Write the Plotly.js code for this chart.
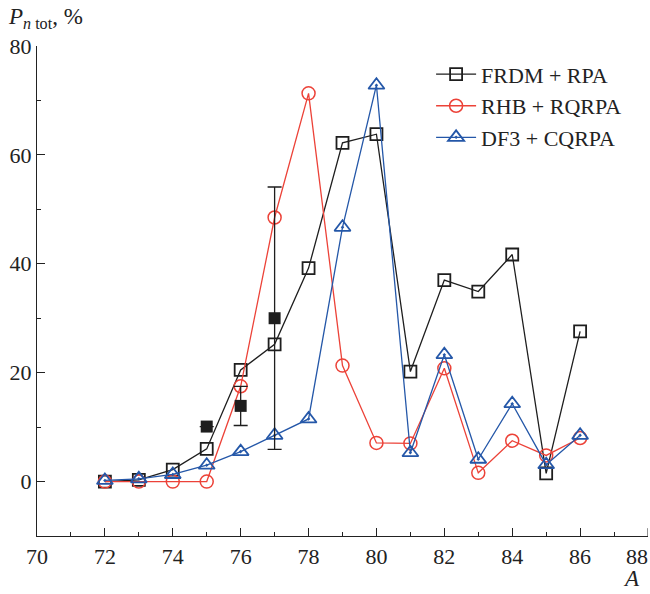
<!DOCTYPE html>
<html>
<head>
<meta charset="utf-8">
<script src="https://cdn.plot.ly/plotly-3.0.1.min.js"></script>
<style>html,body{margin:0;padding:0;background:#fff;}#chart{width:650px;height:594px;}</style>
</head>
<body>
<div id="chart"></div>
<script>
// Mass numbers
const massNumbers = [72, 73, 74, 75, 76, 77, 78, 79, 80, 81, 82, 83, 84, 85, 86];
// FRDM + RPA
const frdmRpa = [0.0, 0.3, 2.2, 6.0, 20.5, 25.2, 39.2, 62.2, 63.8, 20.2, 37.0, 34.9, 41.7, 1.5, 27.6];
// RHB + RQRPA
const rhbRqrpa = [0.0, 0.0, 0.0, 0.0, 17.5, 48.5, 71.3, 21.3, 7.1, 7.0, 20.8, 1.6, 7.5, 4.8, 8.0];
// DF3 + CQRPA
const df3Cqrpa = [0.2, 0.5, 1.3, 3.0, 5.5, 8.5, 11.5, 46.7, 72.8, 5.3, 23.3, 4.1, 14.3, 3.1, 8.5];
// Experimental values with errors
const expA = [75, 76, 77];
const expValues = [10.1, 13.9, 30.0];
const expErrors = [0, 3.6, 24.1];

const seriesNames = ['FRDM + RPA', 'RHB + RQRPA', 'DF3 + CQRPA'];
const xTickVals = [70, 72, 74, 76, 78, 80, 82, 84, 86, 88];
const yTickVals = [0, 20, 40, 60, 80];

const FONT = 'Liberation Serif';
const BLACK = '#1e1e1e', RED = '#ec4238', BLUE = '#2457a8';

const traces = [
  {x: massNumbers, y: frdmRpa, name: seriesNames[0], mode: 'lines+markers',
   line: {color: BLACK, width: 1.3},
   marker: {symbol: 'square-open', size: 12, color: BLACK, line: {width: 1.8}}},
  {x: massNumbers, y: rhbRqrpa, name: seriesNames[1], mode: 'lines+markers',
   line: {color: RED, width: 1.3},
   marker: {symbol: 'circle-open', size: 13, color: RED, line: {width: 1.5}}},
  {x: massNumbers, y: df3Cqrpa, name: seriesNames[2], mode: 'lines+markers',
   line: {color: BLUE, width: 1.3},
   marker: {symbol: 'triangle-up-open-dot', size: 14, color: BLUE, line: {width: 1.8}}},
  {x: expA, y: expValues, name: 'exp', mode: 'markers', showlegend: false,
   marker: {symbol: 'square', size: 12, color: BLACK},
   error_y: {type: 'data', array: expErrors, visible: true, color: BLACK, thickness: 1.3, width: 7}}
];

const lastTick = xTickVals[xTickVals.length - 1];

const layout = {
  width: 650, height: 594,
  margin: {l: 37, r: 2, t: 46, b: 58},
  paper_bgcolor: '#fff', plot_bgcolor: '#fff',
  font: {family: FONT, size: 22, color: '#222'},
  showlegend: true,
  legend: {x: 0.645, y: 0.985, xanchor: 'left', yanchor: 'top', bgcolor: 'rgba(0,0,0,0)',
           font: {family: FONT, size: 22, color: '#222'}, tracegroupgap: 0, itemwidth: 40},
  xaxis: {range: [70, 88], tickvals: xTickVals.slice(0, -1),
          ticktext: xTickVals.slice(0, -1).map(String),
          tickfont: {family: FONT, size: 22, color: '#222'},
          ticks: 'inside', ticklen: 8, tickwidth: 1, tickcolor: '#222',
          minor: {ticks: 'inside', dtick: 1, tick0: 70, ticklen: 4, tickcolor: '#222', showgrid: false},
          showline: true, linecolor: '#222', linewidth: 1.3, showgrid: false, zeroline: false,
          fixedrange: true},
  yaxis: {range: [-10, 80], tickvals: yTickVals, ticktext: yTickVals.map(String),
          tickfont: {family: FONT, size: 22, color: '#222'},
          ticks: 'inside', ticklen: 8, tickwidth: 1, tickcolor: '#222',
          minor: {ticks: 'inside', dtick: 10, tick0: -10, ticklen: 4, tickcolor: '#222', showgrid: false},
          showline: true, linecolor: '#222', linewidth: 1.3, showgrid: false, zeroline: false,
          fixedrange: true},
  shapes: [
    {type: 'line', xref: 'x', yref: 'paper', x0: lastTick, x1: lastTick, y0: 0, y1: 0.016,
     line: {color: '#222', width: 1}}
  ],
  annotations: [
    {xref: 'paper', yref: 'paper', x: -0.05, y: 1.09, xanchor: 'left', yanchor: 'top', showarrow: false,
     text: '<i>P</i><sub><i>n</i> tot</sub>, %', font: {family: FONT, size: 23, color: '#222'}},
    {xref: 'paper', yref: 'paper', x: 0.99, y: -0.058, xanchor: 'right', yanchor: 'top', showarrow: false,
     text: '<i>A</i>', font: {family: FONT, size: 23, color: '#222'}},
    {xref: 'paper', yref: 'paper', x: 1.003, y: -0.012, xanchor: 'right', yanchor: 'top', showarrow: false,
     text: String(lastTick), font: {family: FONT, size: 22, color: '#222'}}
  ]
};

Plotly.newPlot('chart', traces, layout, {displayModeBar: false});
</script>
</body>
</html>
